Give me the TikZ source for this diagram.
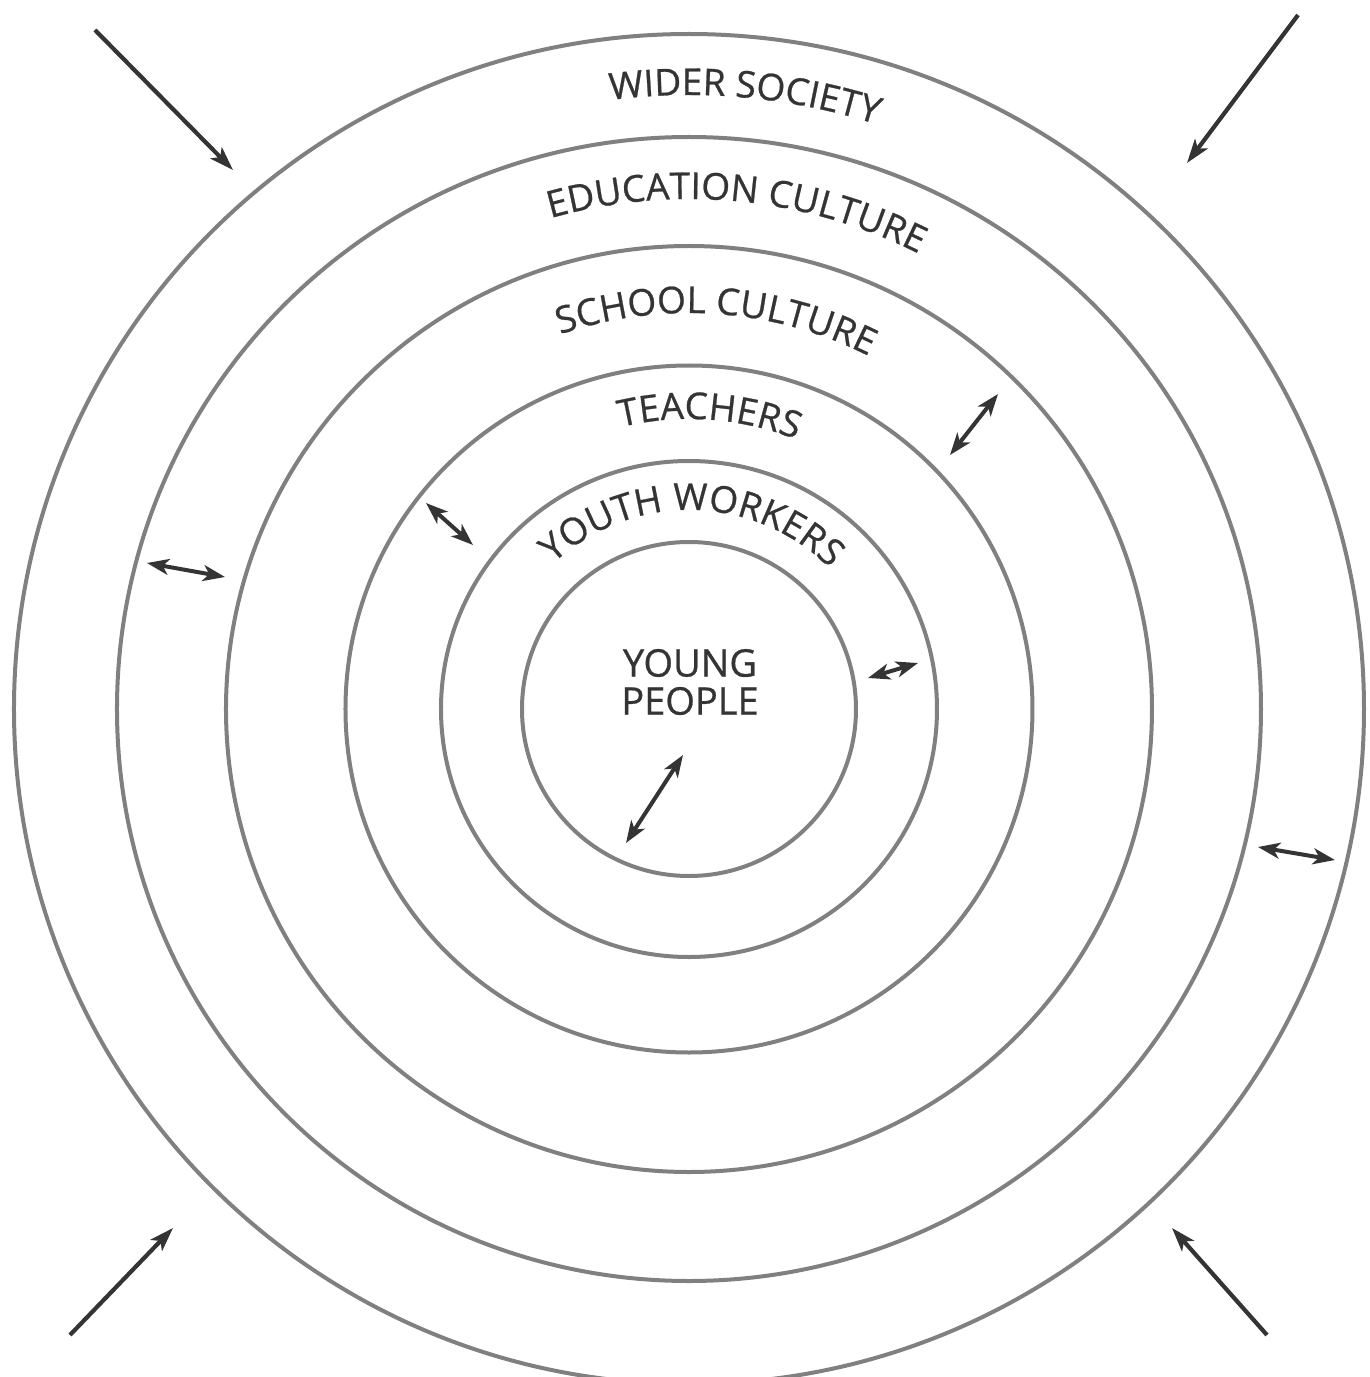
\documentclass[tikz,border=0pt]{standalone}
\usepackage{fontspec}
\setmainfont{Open Sans}
\newfontfamily\ringfam{Open Sans}[FakeBold=0.7]
\usetikzlibrary{arrows.meta,decorations.text}
\definecolor{rim}{HTML}{808080}
\definecolor{ink}{HTML}{343434}
\newcommand\bandfont{\ringfam\fontsize{18.5}{22}\selectfont}
\tikzset{ring/.style={draw=rim,line width=2pt},arrow/.style={-{Stealth[length=12pt,width=8pt,inset=3pt]},draw=ink,line width=2.1pt},twoway/.style={{Stealth[length=11pt,width=8pt,inset=3pt]}-{Stealth[length=11pt,width=8pt,inset=3pt]},draw=ink,line width=2pt},band/.style={decorate,decoration={text along path,text align=center,text color=ink,text={|\bandfont|#1}}},core/.style={align=center,text=ink,inner sep=0pt,font=\ringfam\fontsize{19}{19}\selectfont}}

\begin{document}
\begin{tikzpicture}[x=0.5pt,y=0.5pt]
\useasboundingbox (-689,-668) rectangle (681,709);
% rings, inside out
\draw[ring] (0,0) circle[radius=167];
\draw[ring] (0,0) circle[radius=248];
\draw[ring] (0,0) circle[radius=343.5];
\draw[ring] (0,0) circle[radius=463];
\draw[ring] (0,0) circle[radius=572];
\draw[ring] (0,0) circle[radius=675];
% ring labels
\path[band=WIDER SOCIETY] (130:614) arc[start angle=130,end angle=39.6,radius=614];
\path[band=EDUCATION CULTURE] (130:510) arc[start angle=130,end angle=39,radius=510];
\path[band=SCHOOL CULTURE] (131:396) arc[start angle=131,end angle=41,radius=396];
\path[band=TEACHERS] (131:290) arc[start angle=131,end angle=41,radius=290];
\path[band=YOUTH WORKERS] (159:199) arc[start angle=159,end angle=19,radius=199];
\node[core] (young) at (1,27) {YOUNG\\PEOPLE};
% outside pressure
\coordinate (tl1) at (-594,679); \coordinate (tl2) at (-456,539);
\coordinate (tr1) at (609,694); \coordinate (tr2) at (498,546);
\coordinate (bl1) at (-619,-626); \coordinate (bl2) at (-516,-519);
\coordinate (br1) at (578,-626); \coordinate (br2) at (483,-519);
\draw[arrow](tl1)--(tl2);\draw[arrow](tr1)--(tr2);\draw[arrow](bl1)--(bl2);\draw[arrow](br1)--(br2);
% exchange between rings
\coordinate (w1) at (-542,146); \coordinate (w2) at (-464,132);
\coordinate (t1) at (-263,206); \coordinate (t2) at (-216,164);
\coordinate (s1) at (261,254); \coordinate (s2) at (309,315);
\coordinate (y1) at (179,31); \coordinate (y2) at (229,46);
\coordinate (p1) at (-63,-134); \coordinate (p2) at (-6,-46);
\coordinate (e1) at (569,-138); \coordinate (e2) at (646,-151);
\draw[twoway](w1)--(w2);\draw[twoway](t1)--(t2);\draw[twoway](s1)--(s2);
\draw[twoway](y1)--(y2);\draw[twoway](p1)--(p2);\draw[twoway](e1)--(e2);
\end{tikzpicture}
\end{document}
